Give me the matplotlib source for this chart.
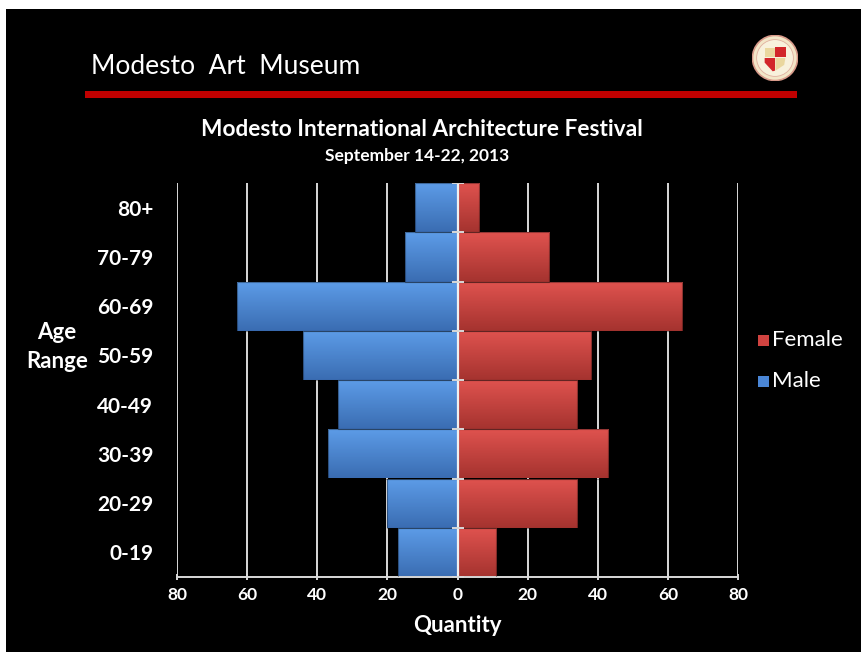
import numpy as np
import matplotlib
matplotlib.use("Agg")
import matplotlib.pyplot as plt
from matplotlib.patches import Rectangle, Circle, Polygon

# age pyramid
age_groups = ['0-19', '20-29', '30-39', '40-49', '50-59', '60-69', '70-79', '80+']
male = [17, 20, 37, 34, 44, 63, 15, 12]
female = [11, 34, 43, 34, 38, 64, 26, 6]
xticks = [-80, -60, -40, -20, 0, 20, 40, 60, 80]

sans = ['Lato', 'DejaVu Sans']
grey = '#d9d9d9'


def gradient_fill(ax, bars, top, bottom):
    # vertical shade inside each bar, like the office 3d look
    grad = np.linspace(0, 1, 64)[:, None, None]
    top = np.array(matplotlib.colors.to_rgb(top))
    bottom = np.array(matplotlib.colors.to_rgb(bottom))
    img = top * (1 - grad) + bottom * grad
    for b in bars:
        x0, y0 = b.get_x(), b.get_y()
        w, h = b.get_width(), b.get_height()
        im = ax.imshow(img, extent=[x0, x0 + w, y0, y0 + h], origin='upper',
                       aspect='auto', zorder=2, interpolation='bilinear')
        im.set_clip_path(b)
        b.set_facecolor('none')


fig = plt.figure(figsize=(8.61, 6.52), dpi=100, facecolor='white')
fig.patches.append(Rectangle((0.007, 0.0), 0.993, 0.986, transform=fig.transFigure,
                             facecolor='black', edgecolor='none', zorder=-5))

# header
fig.text(91 / 861, 1 - 67 / 652, 'Modesto  Art  Museum', color='white', fontsize=19,
         family=sans, va='center', ha='left')
fig.patches.append(Rectangle((85 / 861, 1 - 98 / 652), (797 - 85) / 861, 7 / 652,
                             transform=fig.transFigure, facecolor='#c00000',
                             edgecolor='none', zorder=1))

# little seal in the corner
lax = fig.add_axes([752 / 861, 1 - 81 / 652, 46 / 861, 46 / 652])
lax.set_xlim(-1, 1)
lax.set_ylim(-1, 1)
lax.set_aspect('equal')
lax.axis('off')
lax.add_patch(Circle((0, 0), 0.98, facecolor='#f3e6c8', edgecolor='#d89a8a', lw=1.2))
lax.add_patch(Circle((0, 0), 0.8, facecolor='#f8f1dc', edgecolor='#e0b0a0', lw=0.6))
lax.add_patch(Polygon([[-0.45, 0.0], [0.0, 0.0], [0.0, -0.55], [-0.1, -0.58],
                       [-0.45, -0.2]], facecolor='#d2262a', edgecolor='none'))
lax.add_patch(Rectangle((0.02, 0.05), 0.45, 0.45, facecolor='#d2262a', edgecolor='none'))
lax.add_patch(Rectangle((-0.42, 0.05), 0.42, 0.4, facecolor='#ead79e', edgecolor='none'))
lax.add_patch(Polygon([[0.02, 0.0], [0.45, 0.0], [0.4, -0.3], [0.02, -0.55]],
                      facecolor='#ead79e', edgecolor='none'))

# titles
fig.text(422 / 861, 1 - 129 / 652, 'Modesto International Architecture Festival',
         color='white', fontsize=16.3, fontweight='bold', family=sans,
         ha='center', va='center')
fig.text(417 / 861, 1 - 156 / 652, 'September 14-22, 2013', color='white',
         fontsize=12.5, fontweight='bold', family=sans, ha='center', va='center')

ax = fig.add_axes([177 / 861, 1 - 577 / 652, (738 - 177) / 861, (577 - 183) / 652])
ax.set_facecolor('black')

y = np.arange(len(age_groups))
mbars = ax.barh(y, -np.array(male), height=1.0, color='#4a86d6', zorder=2)
fbars = ax.barh(y, female, height=1.0, color='#d04340', zorder=2)
gradient_fill(ax, mbars, '#5d9de8', '#3a6cb2')
gradient_fill(ax, fbars, '#e0534f', '#a5332f')
for b in list(mbars) + list(fbars):
    ax.add_patch(Rectangle((b.get_x(), b.get_y()), b.get_width(), b.get_height(),
                           facecolor='none', edgecolor='#00000055', lw=0.8, zorder=3))

for xv in xticks:
    if xv != 0:
        ax.axvline(xv, color=grey, lw=1.4, zorder=1)
ax.axvline(0, color='#f0f0f0', lw=1.6, zorder=4)
ax.plot(np.zeros(len(y) + 1), np.arange(len(y) + 1) - 0.5, '_', color=grey,
        ms=9, mew=1.4, zorder=4)

ax.set_xlim(-80, 80)
ax.set_ylim(-0.5, len(y) - 0.5)
ax.set_xticks(xticks)
ax.set_xticklabels([str(abs(v)) for v in xticks])
ax.set_yticks(y)
ax.set_yticklabels(age_groups)
for lbl in ax.get_xticklabels():
    lbl.set_family(sans)
    lbl.set_fontweight('bold')
for lbl in ax.get_yticklabels():
    lbl.set_family(sans)
    lbl.set_fontweight('bold')
ax.tick_params(axis='x', colors=grey, labelcolor='white', labelsize=12.5,
               length=5, width=1.4, direction='inout', pad=5)
ax.tick_params(axis='y', length=0, labelcolor='white', labelsize=15, pad=17)
for side in ['top', 'right', 'left']:
    ax.spines[side].set_visible(False)
ax.spines['bottom'].set_color(grey)
ax.spines['bottom'].set_linewidth(1.4)

ax.set_xlabel('Quantity', color='white', fontsize=16, family=sans,
              fontweight='bold', labelpad=8)
fig.text(57 / 861, 1 - 347 / 652, 'Age\nRange', color='white', fontsize=16,
         family=sans, fontweight='bold', ha='center', va='center', linespacing=1.45)

# legend drawn by hand to match the squares
for label, col, ypix in [('Female', '#d04340', 340), ('Male', '#4a86d6', 381)]:
    fig.patches.append(Rectangle((758 / 861, 1 - (ypix + 5.5) / 652), 11 / 861,
                                 11 / 652, transform=fig.transFigure,
                                 facecolor=col, edgecolor='none', zorder=1))
    fig.text(772 / 861, 1 - ypix / 652, label, color='white', fontsize=16,
             family=sans, ha='left', va='center')

fig.savefig('out.png', dpi=100, facecolor=fig.get_facecolor())
